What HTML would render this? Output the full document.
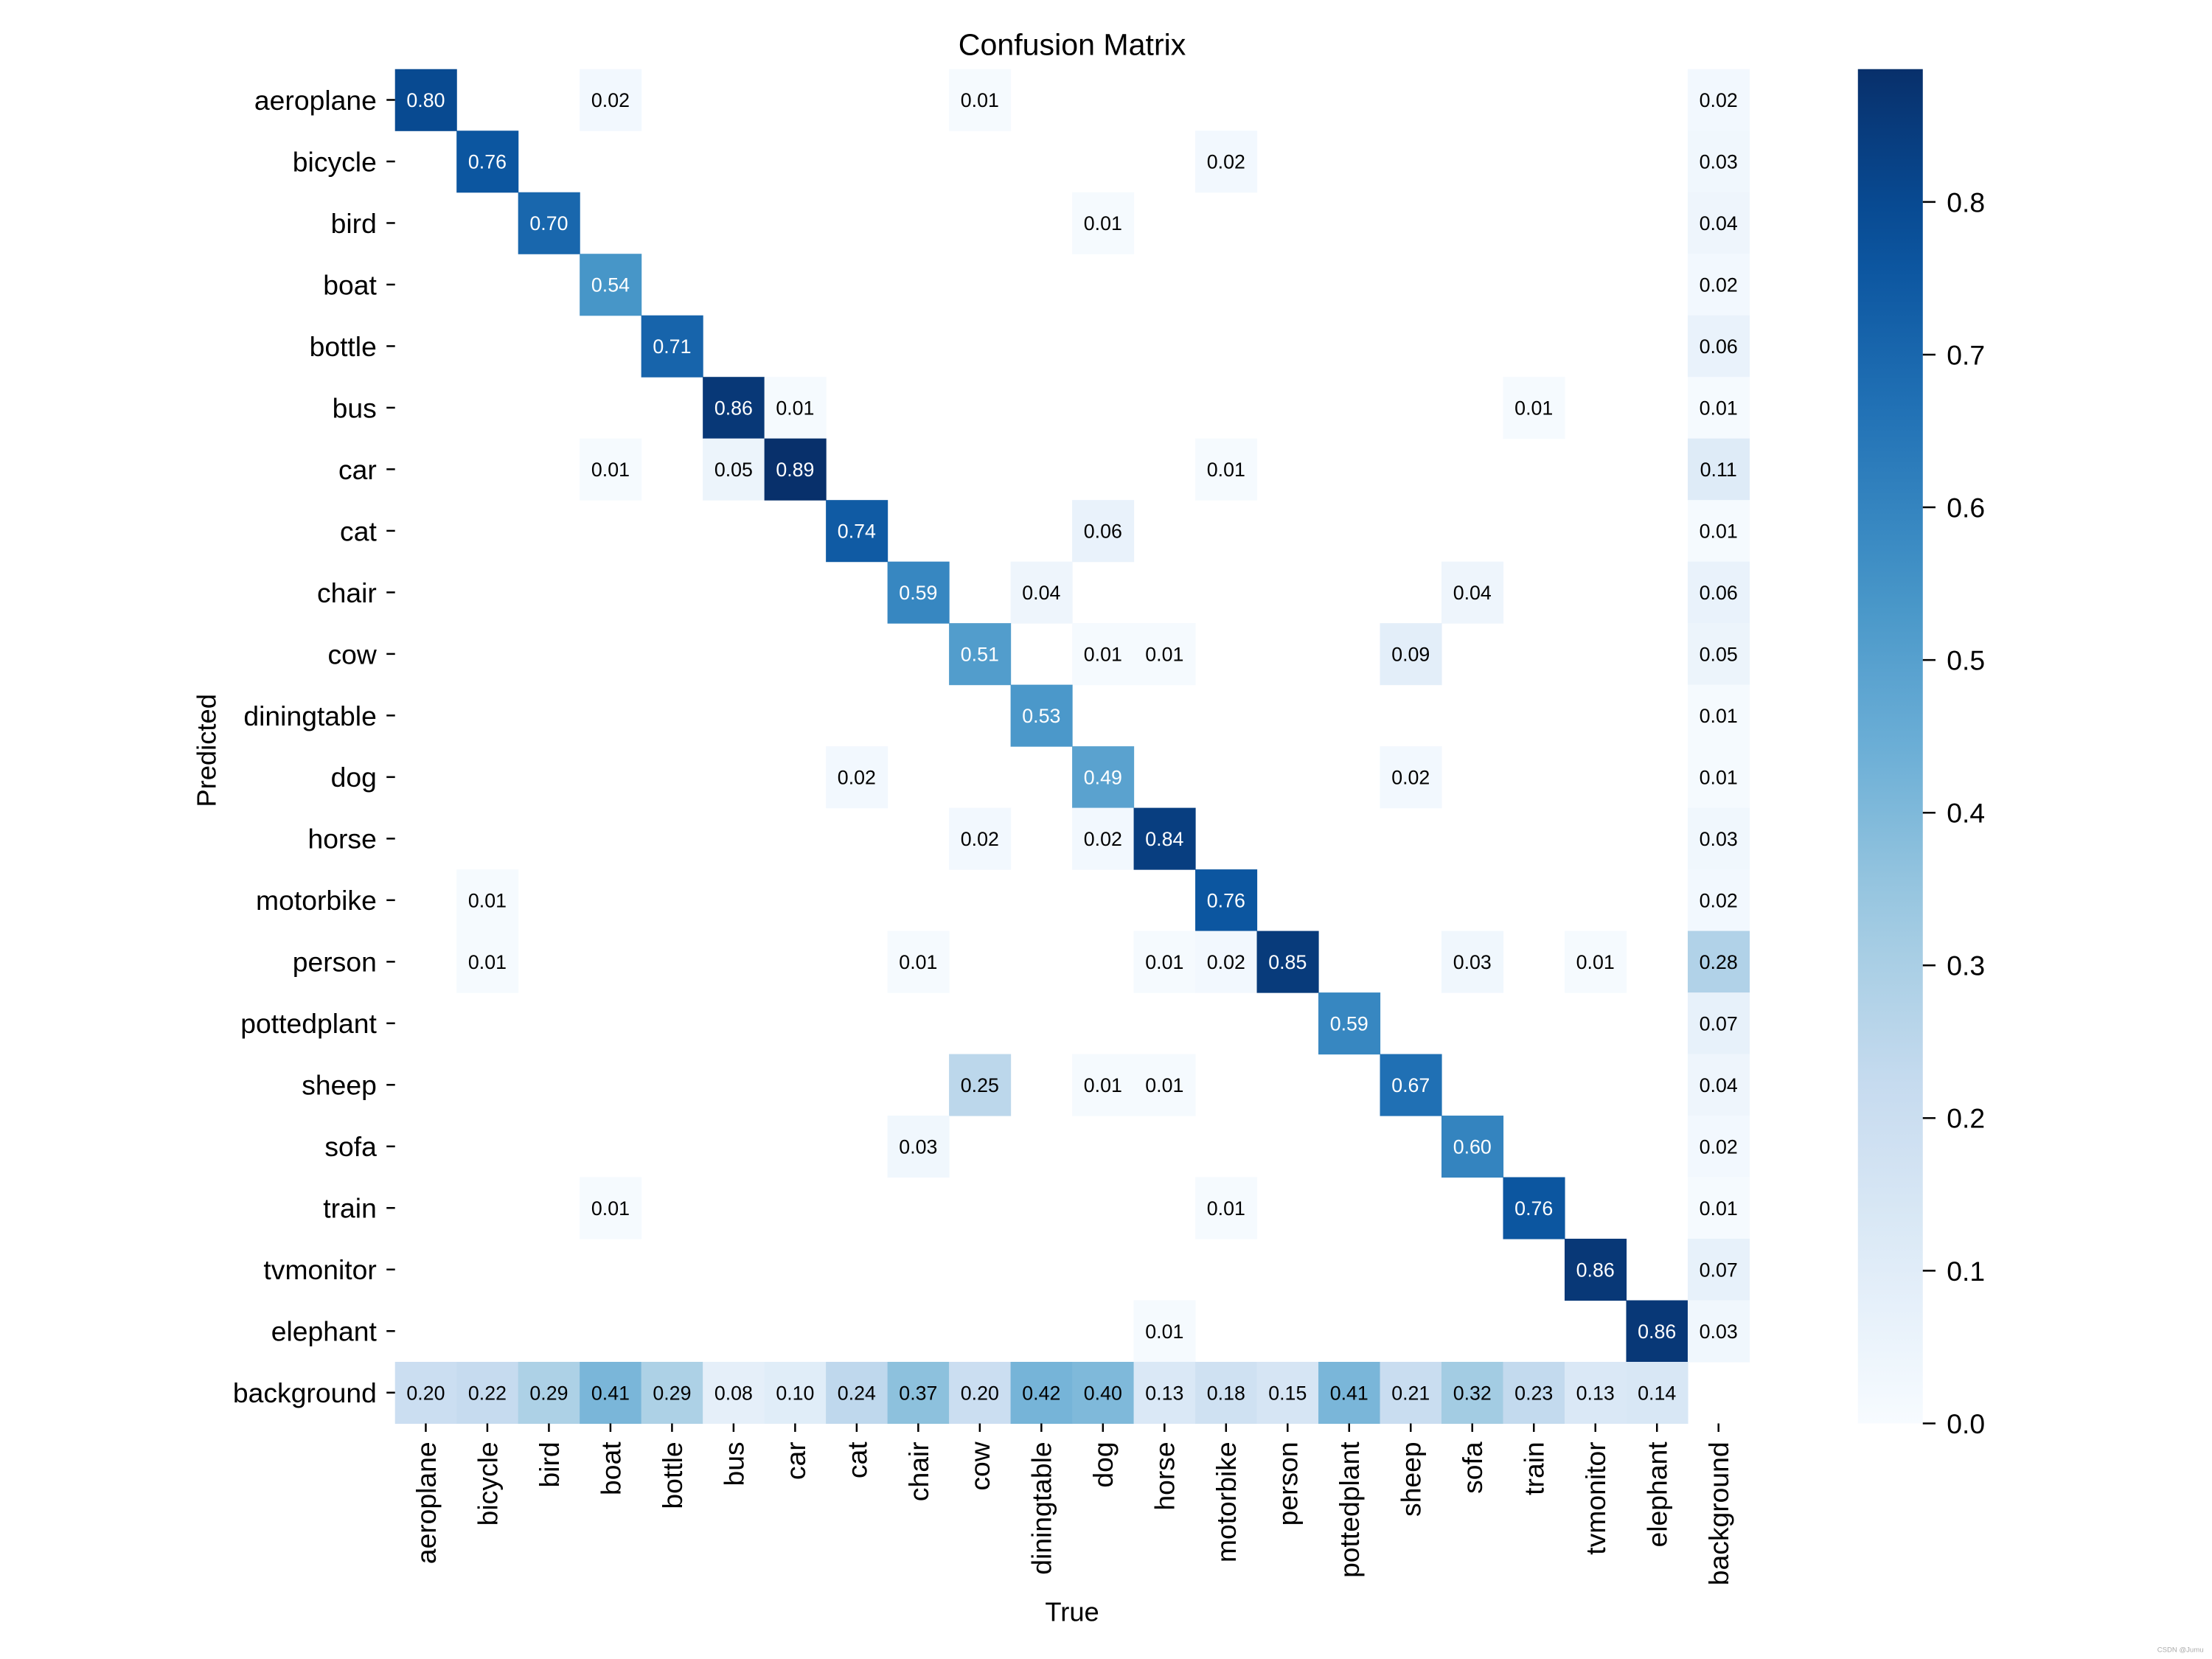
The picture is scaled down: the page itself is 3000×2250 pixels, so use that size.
<!DOCTYPE html>
<html><head><meta charset="utf-8">
<style>
html,body{margin:0;padding:0;background:#fff;}
svg{display:block;}
text{font-family:"Liberation Sans",sans-serif;}
</style></head>
<body>
<svg id="chart" width="3000" height="2250" viewBox="0 0 1568 1176" xmlns="http://www.w3.org/2000/svg">
<defs>
<linearGradient id="cbg" x1="0" y1="1" x2="0" y2="0"></linearGradient>
</defs>
<rect x="0" y="0" width="1568" height="1176" fill="#fff"/>
<text x="760" y="39" font-size="21.5" text-anchor="middle" fill="#000">Confusion Matrix</text>
<g id="cells"></g>
<g id="yticks"></g>
<g id="xticks"></g>
<text x="760" y="1149" font-size="19" text-anchor="middle">True</text>
<text transform="translate(153,532) rotate(-90)" font-size="19" text-anchor="middle">Predicted</text>
<rect x="1317" y="49" width="46" height="960" fill="url(#cbg)"/>
<g id="cbticks"></g>
<text x="1562" y="1171" font-size="5" text-anchor="end" fill="#aaa">CSDN @Jumu</text>
</svg>
<script>
const classes = ["aeroplane","bicycle","bird","boat","bottle","bus","car","cat","chair","cow","diningtable","dog","horse","motorbike","person","pottedplant","sheep","sofa","train","tvmonitor","elephant","background"];
// [row(predicted), col(true), value]
const entries = [
[0,0,.80],[0,3,.02],[0,9,.01],[0,21,.02],
[1,1,.76],[1,13,.02],[1,21,.03],
[2,2,.70],[2,11,.01],[2,21,.04],
[3,3,.54],[3,21,.02],
[4,4,.71],[4,21,.06],
[5,5,.86],[5,6,.01],[5,18,.01],[5,21,.01],
[6,3,.01],[6,5,.05],[6,6,.89],[6,13,.01],[6,21,.11],
[7,7,.74],[7,11,.06],[7,21,.01],
[8,8,.59],[8,10,.04],[8,17,.04],[8,21,.06],
[9,9,.51],[9,11,.01],[9,12,.01],[9,16,.09],[9,21,.05],
[10,10,.53],[10,21,.01],
[11,7,.02],[11,11,.49],[11,16,.02],[11,21,.01],
[12,9,.02],[12,11,.02],[12,12,.84],[12,21,.03],
[13,1,.01],[13,13,.76],[13,21,.02],
[14,1,.01],[14,8,.01],[14,12,.01],[14,13,.02],[14,14,.85],[14,17,.03],[14,19,.01],[14,21,.28],
[15,15,.59],[15,21,.07],
[16,9,.25],[16,11,.01],[16,12,.01],[16,16,.67],[16,21,.04],
[17,8,.03],[17,17,.60],[17,21,.02],
[18,3,.01],[18,13,.01],[18,18,.76],[18,21,.01],
[19,19,.86],[19,21,.07],
[20,12,.01],[20,20,.86],[20,21,.03]
];
const backgroundRow = [.20,.22,.29,.41,.29,.08,.10,.24,.37,.20,.42,.40,.13,.18,.15,.41,.21,.32,.23,.13,.14];
const cbTicks = [0.0,0.1,0.2,0.3,0.4,0.5,0.6,0.7,0.8];
const vmax = 0.887;

const NS="http://www.w3.org/2000/svg";
const X0=280,X1=1240,Y0=49,Y1=1009,n=classes.length,cw=(X1-X0)/n,ch=(Y1-Y0)/n;
const blues=["#f7fbff","#deebf7","#c6dbef","#9ecae1","#6baed6","#4292c6","#2171b5","#08519c","#08306b"];
function hex(h){return [1,3,5].map(i=>parseInt(h.substr(i,2),16));}
function color(v){let t=Math.max(0,Math.min(1,v/vmax))*(blues.length-1);let i=Math.min(Math.floor(t),blues.length-2);let f=t-i;let a=hex(blues[i]),b=hex(blues[i+1]);return "rgb("+a.map((x,k)=>Math.round(x+(b[k]-x)*f)).join(",")+")";}
function xs(c){return X0+c*cw;}
function ys(r){return Y0+r*ch;}
function mk(tag,attrs,parent){const e=document.createElementNS(NS,tag);for(const k in attrs)e.setAttribute(k,attrs[k]);parent.appendChild(e);return e;}
const cells=document.getElementById('cells');
const all=entries.slice();
backgroundRow.forEach((v,c)=>all.push([21,c,v]));
all.forEach(([r,c,v])=>{
  const rect=mk('rect',{x:xs(c),y:ys(r),width:cw+0.3,height:ch+0.3,fill:color(v)},cells);
  
  
  const t=mk('text',{x:xs(c)+cw/2,y:ys(r)+ch/2+5,'font-size':'14','text-anchor':'middle',fill:v>0.44?'#fff':'#000'},cells);
  
  
  t.textContent=v.toFixed(2);
});
const yt=document.getElementById('yticks'),xt=document.getElementById('xticks');
classes.forEach((c,i)=>{
  const cy=ys(i)+ch/2;
  const t=mk('text',{x:267,y:cy+7,'font-size':'19.5','text-anchor':'end'},yt);
  
  
  t.textContent=c;
  mk('line',{x1:274,x2:280,y1:cy,y2:cy,stroke:'#000','stroke-width':1.3},yt);
  const cx=xs(i)+cw/2;
  const tx=mk('text',{transform:'translate('+(cx+7)+',1022) rotate(-90)','font-size':'19.5','text-anchor':'end'},xt);
  
  
  tx.textContent=c;
  mk('line',{x1:cx,x2:cx,y1:1009,y2:1015,stroke:'#000','stroke-width':1.3},xt);
});
const g=document.getElementById('cbg');
for(let i=0;i<=20;i++){const v=vmax*i/20;mk('stop',{offset:(i/20),'stop-color':color(v)},g);}
const cb=document.getElementById('cbticks');
cbTicks.forEach(v=>{
  const y=Y1-(v/vmax)*(Y1-Y0);
  mk('line',{x1:1363,x2:1372,y1:y,y2:y,stroke:'#000','stroke-width':1.3},cb);
  const t=mk('text',{x:1380,y:y+7,'font-size':'19.5'},cb);
  
  
  t.textContent=v.toFixed(1);
});
</script>
</body></html>
